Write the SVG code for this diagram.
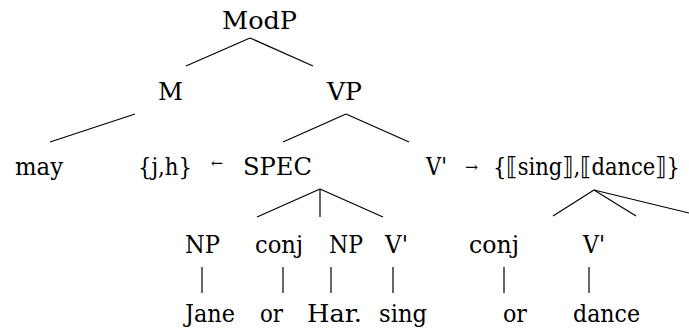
<svg xmlns="http://www.w3.org/2000/svg" width="689" height="329" viewBox="0 0 689 329">
<style>
text{font-family:"DejaVu Serif Condensed","DejaVu Serif",serif;font-size:25px;fill:#000}
.a{font-size:15px}
line{stroke:#000;stroke-width:1.2}
</style>
<rect width="689" height="329" fill="#fff"/>
<g id="connectors">
<line x1="250" y1="38" x2="186" y2="66"/>
<line x1="250" y1="38" x2="313" y2="66"/>
<line x1="135" y1="114" x2="50" y2="142"/>
<line x1="346" y1="114" x2="283" y2="142"/>
<line x1="346" y1="114" x2="409" y2="142"/>
<line x1="320" y1="189" x2="257" y2="217"/>
<line x1="320" y1="189" x2="320" y2="217"/>
<line x1="320" y1="189" x2="383" y2="217"/>
<line x1="594" y1="190" x2="553" y2="216"/>
<line x1="594" y1="190" x2="636" y2="216"/>
<line x1="594" y1="190" x2="689" y2="213"/>
<line x1="202" y1="267" x2="202" y2="293"/>
<line x1="283" y1="267" x2="283" y2="293"/>
<line x1="331" y1="267" x2="331" y2="293"/>
<line x1="393" y1="267" x2="393" y2="293"/>
<line x1="504" y1="267" x2="504" y2="293"/>
<line x1="589" y1="267" x2="589" y2="293"/>
</g>
<g id="modp"><text x="222" y="29" textLength="75" lengthAdjust="spacingAndGlyphs">ModP</text></g>
<g id="m"><text x="158" y="100" textLength="25" lengthAdjust="spacingAndGlyphs">M</text></g>
<g id="vp"><text x="327" y="100" textLength="35" lengthAdjust="spacingAndGlyphs">VP</text></g>
<g id="may"><text x="15" y="175" textLength="48" lengthAdjust="spacingAndGlyphs">may</text></g>
<g id="spec"><text x="138" y="175" textLength="54" lengthAdjust="spacingAndGlyphs">{j,h}</text><text class="a" x="211" y="168" textLength="12" lengthAdjust="spacingAndGlyphs">←</text><text x="243" y="175" textLength="69" lengthAdjust="spacingAndGlyphs">SPEC</text></g>
<g id="vbar"><text x="426" y="175" textLength="21" lengthAdjust="spacingAndGlyphs">V'</text><text class="a" x="465" y="172" textLength="13" lengthAdjust="spacingAndGlyphs">→</text><text x="680" y="175" text-anchor="end" textLength="187" lengthAdjust="spacingAndGlyphs">{⟦sing⟧,⟦dance⟧}</text></g>
<g id="np1"><text x="185" y="253" textLength="35" lengthAdjust="spacingAndGlyphs">NP</text></g>
<g id="conj1"><text x="255" y="253" textLength="48" lengthAdjust="spacingAndGlyphs">conj</text></g>
<g id="np2"><text x="329" y="253" textLength="34" lengthAdjust="spacingAndGlyphs">NP</text></g>
<g id="v1"><text x="385" y="253" textLength="23" lengthAdjust="spacingAndGlyphs">V'</text></g>
<g id="conj2"><text x="469" y="253" textLength="50" lengthAdjust="spacingAndGlyphs">conj</text></g>
<g id="v2"><text x="583" y="253" textLength="22" lengthAdjust="spacingAndGlyphs">V'</text></g>
<g id="jane"><text x="185" y="322" textLength="50" lengthAdjust="spacingAndGlyphs">Jane</text></g>
<g id="or1"><text x="260" y="322" textLength="23" lengthAdjust="spacingAndGlyphs">or</text></g>
<g id="har"><text x="307" y="322" textLength="55" lengthAdjust="spacingAndGlyphs">Har.</text></g>
<g id="sing"><text x="379" y="322" textLength="48" lengthAdjust="spacingAndGlyphs">sing</text></g>
<g id="or2"><text x="503" y="322" textLength="24" lengthAdjust="spacingAndGlyphs">or</text></g>
<g id="dance"><text x="573" y="322" textLength="67" lengthAdjust="spacingAndGlyphs">dance</text></g>
</svg>
